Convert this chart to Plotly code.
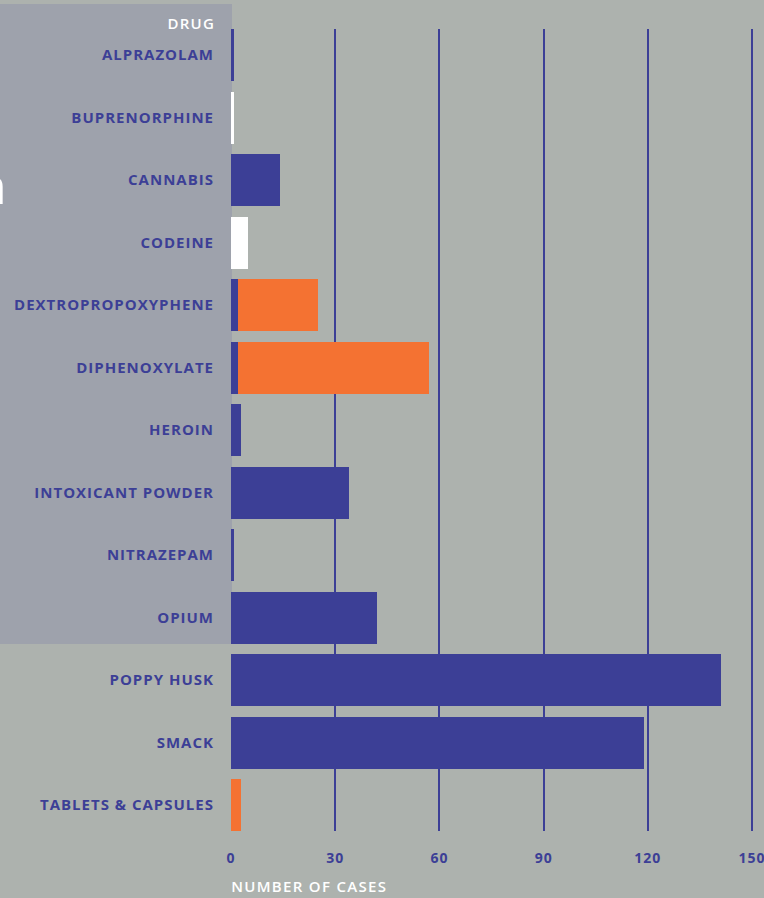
import plotly.graph_objects as go

drugs = ["ALPRAZOLAM", "BUPRENORPHINE", "CANNABIS", "CODEINE", "DEXTROPROPOXYPHENE",
         "DIPHENOXYLATE", "HEROIN", "INTOXICANT POWDER", "NITRAZEPAM", "OPIUM",
         "POPPY HUSK", "SMACK", "TABLETS & CAPSULES"]
blue_cases = [1, 0, 14, 0, 2, 2, 3, 34, 1, 42, 141, 119, 0]
white_cases = [0, 1, 0, 5, 0, 0, 0, 0, 0, 0, 0, 0, 0]
orange_cases = [0, 0, 0, 0, 23, 55, 0, 0, 0, 0, 0, 0, 3]
x_ticks = [0, 30, 60, 90, 120, 150]

BG = "#adb2ae"
PANEL = "#9ea2ac"
BLUE = "#3c3f96"
ORANGE = "#f47232"
FONT = "Open Sans"

W, H = 764, 898
ML, MR, MT, MB = 231, 5, 29, 67
PW, PH = W - ML - MR, H - MT - MB

def px_x(p):
    return (p - ML) / PW

def px_y(p):
    return 1 - (p - MT) / PH

fig = go.Figure()
for vals, col in [(blue_cases, BLUE), (white_cases, "#ffffff"), (orange_cases, ORANGE)]:
    fig.add_trace(go.Bar(y=drugs, x=vals, orientation="h", marker=dict(color=col, line=dict(width=0)),
                         hoverinfo="skip", showlegend=False))

fig.add_shape(type="rect", xref="paper", yref="paper", x0=px_x(0), x1=px_x(232),
              y0=px_y(644), y1=px_y(4), fillcolor=PANEL, line=dict(width=0), layer="below")

fig.add_annotation(text="DRUG", xref="paper", yref="paper", x=px_x(215), y=px_y(23),
                   xanchor="right", yanchor="middle", showarrow=False,
                   font=dict(family=FONT, size=15, color="white", weight=600))
fig.add_annotation(text="NUMBER OF CASES", xref="paper", yref="paper", x=px_x(239), y=px_y(886),
                   xanchor="left", yanchor="middle", showarrow=False,
                   font=dict(family=FONT, size=15, color="white", weight=600))
fig.add_annotation(text="n", xref="paper", yref="paper", x=px_x(9), y=px_y(185),
                   xanchor="right", yanchor="middle", showarrow=False,
                   font=dict(family=FONT, size=50, color="white"))

n = len(drugs)
fig.update_layout(
    width=W, height=H, barmode="stack", bargap=0.168,
    paper_bgcolor=BG, plot_bgcolor=BG,
    margin=dict(l=ML, r=MR, t=MT, b=MB, pad=0),
    xaxis=dict(range=[0, 152], tickvals=x_ticks, showgrid=True, gridcolor=BLUE, gridwidth=2,
               zeroline=False, showline=False, ticks="", ticklabelstandoff=17,
               ticklabeloverflow="allow", automargin=False,
               tickfont=dict(family=FONT, size=14, color=BLUE, weight=700)),
    yaxis=dict(range=[n - 1 + 0.416, -0.416], showgrid=False, zeroline=False, showline=False,
               ticks="", ticklabelstandoff=16, automargin=False,
               tickfont=dict(family=FONT, size=15, color=BLUE, weight=700)),
)

fig.write_html("out.html", config={"displayModeBar": False}, post_script="""
document.body.style.margin = '0';
document.body.style.overflow = 'hidden';
var gd = document.getElementById('{plot_id}');
gd.querySelectorAll('text').forEach(function(t){
  var s = t.textContent;
  if (s === 'n') return;
  t.style.letterSpacing = (s === 'DRUG' || s === 'NUMBER OF CASES') ? '1.3px' : '1px';
});
""")
